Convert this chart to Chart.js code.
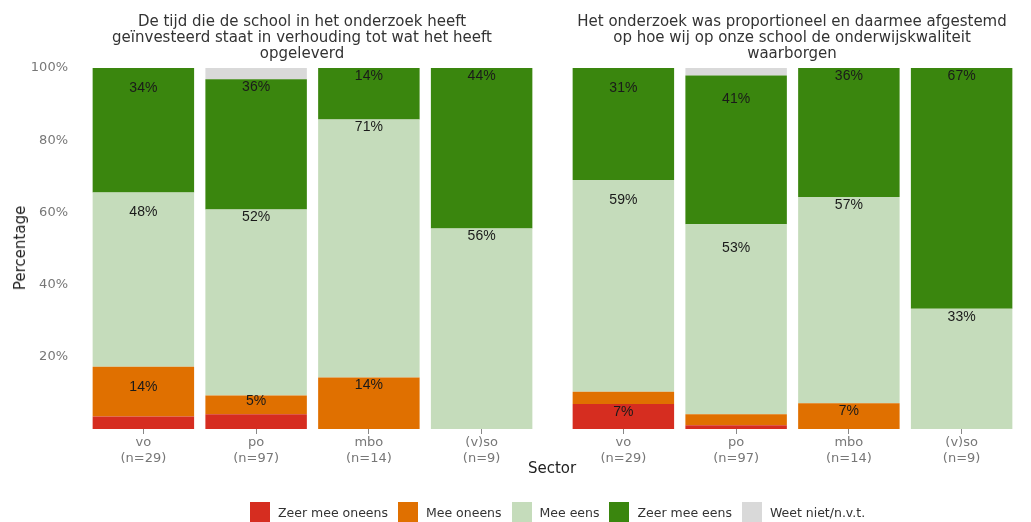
<!DOCTYPE html>
<html>
<head>
<meta charset="utf-8">
<script src="https://cdn.jsdelivr.net/npm/chart.js@4"></script>
<style>
  body { margin: 0; background: #fff; font-family: "DejaVu Sans", Verdana, sans-serif; }
  #wrap { position: relative; width: 1031px; height: 522px; overflow: hidden; }
  canvas { position: absolute; top: 0; }
  .title { position: absolute; top: 13px; width: 540px; text-align: center;
           font-size: 15px; line-height: 16px; color: #333; }
  .axis-title { position: absolute; font-size: 15px; color: #222; }
  #legend { position: absolute; left: 250px; top: 502px; display: flex; align-items: center;
            font-size: 12.5px; color: #333; }
  #legend .box { width: 20px; height: 20px; margin-right: 8px; }
  #legend .lbl { margin-right: 10px; }
</style>
</head>
<body>
<div id="wrap">
  <canvas id="chart1" width="540" height="522" style="left:0"></canvas>
  <canvas id="chart2" width="491" height="522" style="left:540px"></canvas>
  <div class="title" style="left:32px">De tijd die de school in het onderzoek heeft<br>geïnvesteerd staat in verhouding tot wat het heeft<br>opgeleverd</div>
  <div class="title" style="left:522px">Het onderzoek was proportioneel en daarmee afgestemd<br>op hoe wij op onze school de onderwijskwaliteit<br>waarborgen</div>
  <div class="axis-title" style="left:20px; top:248px; transform: translate(-50%, -50%) rotate(-90deg);">Percentage</div>
  <div class="axis-title" style="left:552px; top:468px; transform: translate(-50%, -50%);">Sector</div>
  <div id="legend"></div>
</div>

<script>
/* ================= DATA ================= */

const sectors = [["vo", "(n=29)"], ["po", "(n=97)"], ["mbo", "(n=14)"], ["(v)so", "(n=9)"]];
const answers = ["Zeer mee oneens", "Mee oneens", "Mee eens", "Zeer mee eens", "Weet niet/n.v.t."];
const yTicks = [20, 40, 60, 80, 100];

// panel 1: tijd t.o.v. opbrengst
const tijdZeerOneens = [3.45, 4.12, 0, 0];
const tijdOneens = [13.79, 5.15, 14.29, 0];
const tijdEens = [48.28, 51.55, 71.43, 55.56];
const tijdZeerEens = [34.48, 36.08, 14.29, 44.44];
const tijdWeetNiet = [0, 3.09, 0, 0];

// panel 2: proportioneel / afgestemd
const propZeerOneens = [6.90, 1.03, 0, 0];
const propOneens = [3.45, 3.09, 7.14, 0];
const propEens = [58.62, 52.58, 57.14, 33.33];
const propZeerEens = [31.03, 41.24, 35.71, 66.67];
const propWeetNiet = [0, 2.06, 0, 0];

const colors = ["#d62d20", "#e07000", "#c5dcbb", "#3a860e", "#d9d9d9"];

/* ================= LABELS ON BARS ================= */

const valueLabels = {
  id: "valueLabels",
  afterDatasetsDraw(chart, args, opts) {
    const ctx = chart.ctx;
    ctx.save();
    ctx.font = '14px "Liberation Sans", Arial, sans-serif';
    ctx.fillStyle = "#1a1a1a";
    ctx.textAlign = "center";
    ctx.textBaseline = "middle";
    chart.data.datasets.forEach((ds, i) => {
      const meta = chart.getDatasetMeta(i);
      meta.data.forEach((bar, j) => {
        const v = ds.data[j];
        if (v < 5) return;
        const h = bar.base - bar.y;
        const drop = Math.min(opts.drops[j], h / 2 - 4);
        ctx.fillText(Math.round(v) + "%", bar.x, bar.y + drop);
      });
    });
    ctx.restore();
  }
};

/* ================= CHARTS ================= */

function makeChart(id, series, showY, leftWidth, padRight, drops) {
  const datasets = series.map((data, i) => ({
    label: answers[i],
    data: data,
    backgroundColor: colors[i],
    borderWidth: 0,
    barPercentage: 0.9,
    categoryPercentage: 1
  }));

  return new Chart(document.getElementById(id), {
    type: "bar",
    data: { labels: sectors, datasets },
    options: {
      responsive: false,
      animation: false,
      layout: { padding: { top: 68, right: padRight, left: 0, bottom: 0 } },
      plugins: {
        legend: { display: false },
        tooltip: { enabled: false },
        valueLabels: { drops }
      },
      scales: {
        x: {
          stacked: true,
          grid: { display: true, drawOnChartArea: false, drawTicks: true, tickLength: 5, color: "#888", offset: false },
          border: { display: false },
          ticks: { color: "#777", font: { family: "DejaVu Sans", size: 13 }, padding: 1, maxRotation: 0 },
          afterFit: (s) => { s.height = 93; }
        },
        y: {
          stacked: true,
          min: 0,
          max: 100,
          grid: { display: false },
          border: { display: false },
          afterBuildTicks: (s) => { s.ticks = yTicks.map(v => ({ value: v })); },
          ticks: {
            display: showY,
            color: "#777",
            font: { family: "DejaVu Sans", size: 13 },
            padding: 11,
            callback: (v) => v + "%"
          },
          afterFit: (s) => { s.width = leftWidth; }
        }
      }
    },
    plugins: [valueLabels]
  });
}

makeChart("chart1",
  [tijdZeerOneens, tijdOneens, tijdEens, tijdZeerEens, tijdWeetNiet],
  true, 87, 2, [20, 8, 8, 8]);

makeChart("chart2",
  [propZeerOneens, propOneens, propEens, propZeerEens, propWeetNiet],
  false, 27, 13, [20, 24, 8, 8]);

/* ================= LEGEND ================= */

const legend = document.getElementById("legend");
answers.forEach((a, i) => {
  const box = document.createElement("span");
  box.className = "box";
  box.style.background = colors[i];
  const lbl = document.createElement("span");
  lbl.className = "lbl";
  lbl.textContent = a;
  legend.appendChild(box);
  legend.appendChild(lbl);
});
</script>
</body>
</html>
